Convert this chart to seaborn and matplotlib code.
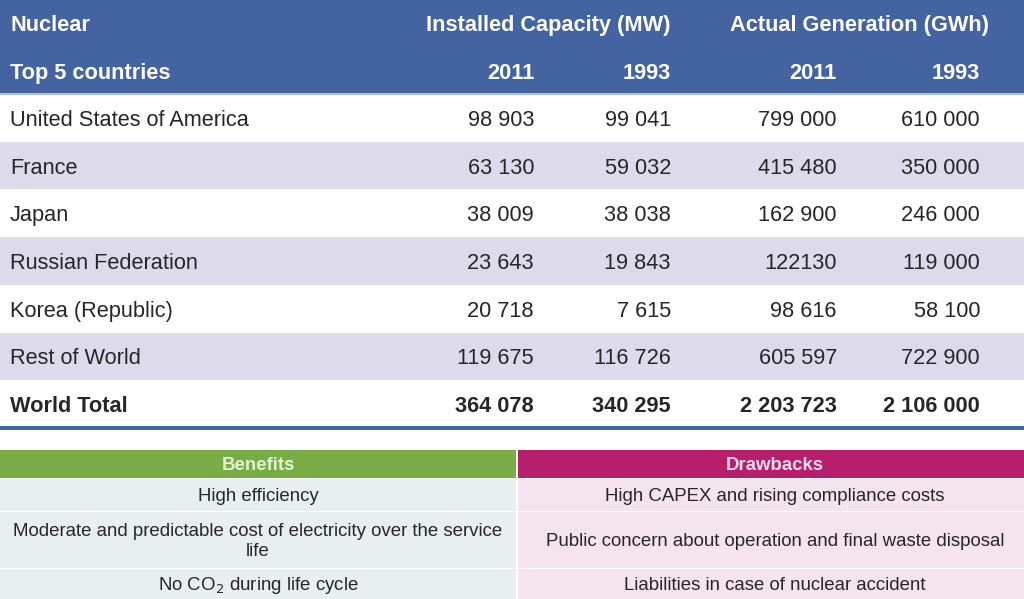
import matplotlib
matplotlib.use("Agg")
import matplotlib.pyplot as plt
import seaborn as sns

# table data
countries = ["United States of America", "France", "Japan", "Russian Federation",
             "Korea (Republic)", "Rest of World", "World Total"]
cap_2011 = ["98 903", "63 130", "38 009", "23 643", "20 718", "119 675", "364 078"]
cap_1993 = ["99 041", "59 032", "38 038", "19 843", "7 615", "116 726", "340 295"]
gen_2011 = ["799 000", "415 480", "162 900", "122130", "98 616", "605 597", "2 203 723"]
gen_1993 = ["610 000", "350 000", "246 000", "119 000", "58 100", "722 900", "2 106 000"]
year_labels = ["2011", "1993", "2011", "1993"]

benefits = ["High efficiency",
            "Moderate and predictable cost of electricity over the service\nlife",
            "No CO$_2$ during life cycle"]
drawbacks = ["High CAPEX and rising compliance costs",
             "Public concern about operation and final waste disposal",
             "Liabilities in case of nuclear accident"]

sns.set_theme(style="white")
plt.rcParams["font.family"] = ["Liberation Sans", "DejaVu Sans"]

BLUE = "#4463a1"
LAV = "#dddbeb"
GREEN = "#78ad45"
MAGENTA = "#b71f6c"
LGREEN = "#e8efee"
LPINK = "#f5e4ee"
TXT = "#262626"
FS = 15.7   # main table font size
FS2 = 13.4  # lower table font size
DY = 2.5    # nudge, va=center sits a bit high

fig = plt.figure(figsize=(10.24, 5.99), dpi=100)
ax = fig.add_axes([0, 0, 1, 1])
ax.set_xlim(0, 1024)
ax.set_ylim(599, 0)
ax.axis("off")

# header
ax.add_patch(plt.Rectangle((0, 0), 1024, 93, color=BLUE, lw=0))
ax.axhline(93.5, color="#9fb4d6", lw=1.2)
ax.text(10, 23 + DY, "Nuclear", color="white", fontsize=FS, fontweight="bold", va="center")
ax.text(10, 71 + DY, "Top 5 countries", color="white", fontsize=FS, fontweight="bold", va="center")
ax.text(548, 23 + DY, "Installed Capacity (MW)", color="white", fontsize=FS, fontweight="bold",
        va="center", ha="center")
ax.text(859, 23 + DY, "Actual Generation (GWh)", color="white", fontsize=FS, fontweight="bold",
        va="center", ha="center")
col_x = [534, 671, 837, 980]
for x, lab in zip(col_x, year_labels):
    ax.text(x, 71 + DY, lab, color="white", fontsize=FS, fontweight="bold", va="center", ha="right")

# body rows
row_h = 47.7
top = 94
for i, name in enumerate(countries):
    y0 = top + i * row_h
    if i % 2 == 1:
        ax.add_patch(plt.Rectangle((0, y0), 1024, row_h, color=LAV, lw=0))
    yc = y0 + row_h / 2 + DY
    bold = "bold" if name == "World Total" else "normal"
    ax.text(10, yc, name, color=TXT, fontsize=FS, fontweight=bold, va="center")
    for x, col in zip(col_x, [cap_2011, cap_1993, gen_2011, gen_1993]):
        ax.text(x, yc, col[i], color=TXT, fontsize=FS, fontweight=bold, va="center", ha="right")
ax.add_patch(plt.Rectangle((0, 426), 1024, 3.5, color=BLUE, lw=0))

# benefits / drawbacks table
ax.add_patch(plt.Rectangle((0, 450), 516, 28, color=GREEN, lw=0))
ax.add_patch(plt.Rectangle((518, 450), 506, 28, color=MAGENTA, lw=0))
ax.text(258, 466, "Benefits", color="#e4f3d2", fontsize=FS2, fontweight="bold", ha="center", va="center")
ax.text(775, 466, "Drawbacks", color="#f6dcec", fontsize=FS2, fontweight="bold", ha="center", va="center")
row_edges = [478, 511, 568, 599]
for j in range(3):
    y0, y1 = row_edges[j], row_edges[j + 1]
    ax.add_patch(plt.Rectangle((0, y0 + 1), 516, y1 - y0 - 1, color=LGREEN, lw=0))
    ax.add_patch(plt.Rectangle((518, y0 + 1), 506, y1 - y0 - 1, color=LPINK, lw=0))
    yc = (y0 + y1) / 2 + 2
    ax.text(258, yc, benefits[j], color=TXT, fontsize=FS2, ha="center", va="center",
            linespacing=1.3)
    ax.text(775, yc, drawbacks[j], color=TXT, fontsize=FS2, ha="center", va="center")

fig.savefig("out.png", dpi=100)
